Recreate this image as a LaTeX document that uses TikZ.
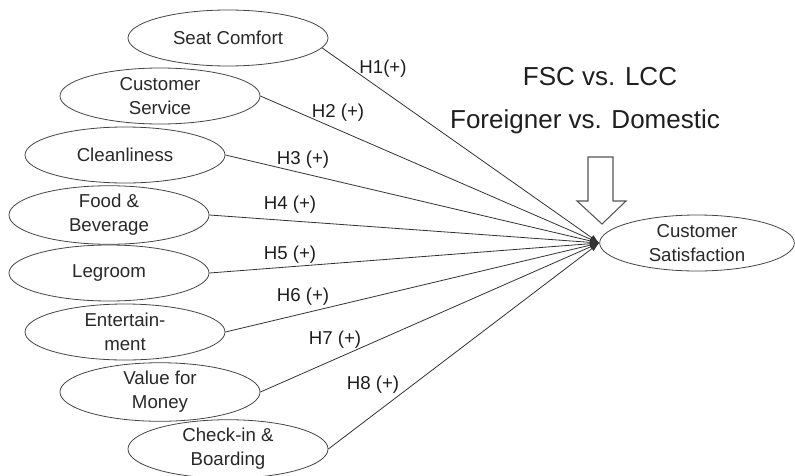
\documentclass[tikz,border=0pt]{standalone}
\usepackage{fontspec}
\setmainfont{Liberation Sans}
\usetikzlibrary{arrows.meta,shapes.geometric}

\tikzset{
  oval/.style={ellipse, draw={rgb,255:red,68;green,68;blue,68}, line width=0.6pt,
    minimum width=150pt, minimum height=42pt, inner sep=0pt, align=center,
    font=\fontsize{14}{18}\selectfont, text={rgb,255:red,40;green,40;blue,40}},
  link/.style={draw={rgb,255:red,50;green,50;blue,50}, line width=0.6pt,
    -{Latex[length=7pt,width=4.5pt]}},
  hyp/.style={inner sep=0.75pt, font=\fontsize{14}{18}\selectfont,
    text={rgb,255:red,30;green,30;blue,30}},
  group/.style={inner sep=0.75pt, font=\fontsize{19.5}{23}\selectfont,
    text={rgb,255:red,30;green,30;blue,30}}
}

\begin{document}
\begin{tikzpicture}[x=0.75pt,y=0.75pt,yscale=-1,xscale=1]
\useasboundingbox (0,0) rectangle (795,475);

%Shape: Ellipses (constructs)
\node [oval] (sc) at (228,38) {Seat Comfort};
\node [oval] (cser) at (160,96) {Customer\\Service};
\node [oval] (cl) at (125,155) {Cleanliness};
\node [oval] (fb) at (109,215) {Food \&\\Beverage};
\node [oval] (lg) at (109,273) {Legroom};
\node [oval] (ent) at (125,332) {Entertain-\\ment};
\node [oval] (vm) at (160,392) {Value for\\Money};
\node [oval] (cib) at (228,449) {Check-in \&\\Boarding};
\node [oval, minimum width=146pt] (cs) at (697,243) {Customer\\Satisfaction};

%Curve Lines: hypotheses
\draw [link] (sc.-6) -- (cs.west);
\draw [link] (cser.east) -- (cs.west);
\draw [link] (cl.east) -- (cs.west);
\draw [link] (fb.east) -- (cs.west);
\draw [link] (lg.east) -- (cs.west);
\draw [link] (ent.east) -- (cs.west);
\draw [link] (vm.east) -- (cs.west);
\draw [link] (cib.east) -- (cs.west);

%Shape: Block Arrow (moderators)
\draw [draw={rgb,255:red,85;green,85;blue,85}, line width=0.8pt, line join=miter]
  (588,157) -- (613,157) -- (613,201) -- (626,201) -- (602,224) -- (577,201) -- (588,201) -- cycle;

% Text Node
\node [hyp] (h1) at (383,69) {H1(+)};
% Text Node
\node [hyp] (h2) at (338,113) {H2 (+)};
% Text Node
\node [hyp] (h3) at (303,160) {H3 (+)};
% Text Node
\node [hyp] (h4) at (290,205) {H4 (+)};
% Text Node
\node [hyp] (h5) at (290,255) {H5 (+)};
% Text Node
\node [hyp] (h6) at (303,297) {H6 (+)};
% Text Node
\node [hyp] (h7) at (335,340) {H7 (+)};
% Text Node
\node [hyp] (h8) at (373,385) {H8 (+)};
% Text Node
\node [group] (fsc) at (600,77) {FSC vs. LCC};
% Text Node
\node [group] (fd) at (585,122) {Foreigner vs. Domestic};

\end{tikzpicture}
\end{document}
